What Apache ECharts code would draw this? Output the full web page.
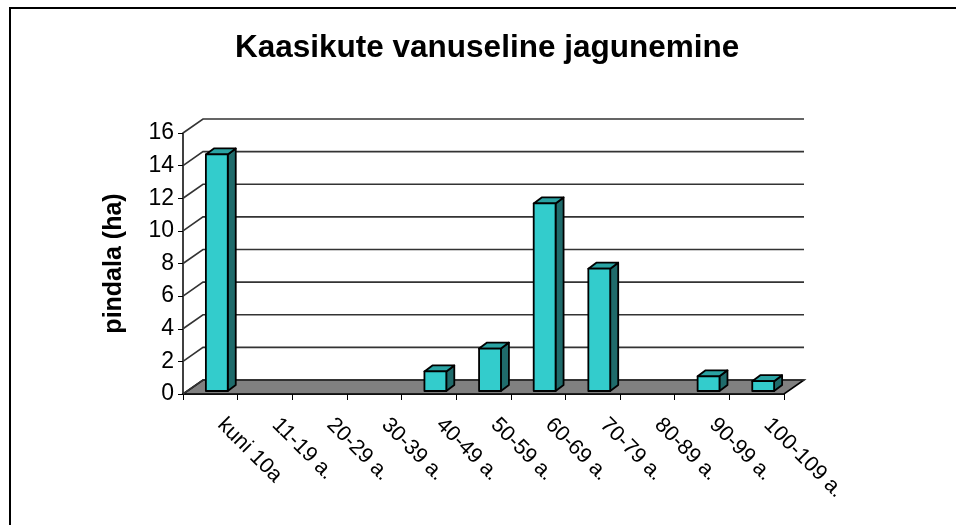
<!DOCTYPE html>
<html>
<head>
<meta charset="utf-8">
<script src="https://cdn.jsdelivr.net/npm/echarts@6/dist/echarts.min.js"></script>
<style>
  html, body { margin: 0; padding: 0; background: #fff; }
  #chart { width: 956px; height: 525px; }
</style>
</head>
<body>
<div id="chart"></div>
<script>
// age classes of the birch stands and their area (ha)
var categories = ['kuni 10a', '11-19 a.', '20-29 a.', '30-39 a.', '40-49 a.', '50-59 a.',
                  '60-69 a.', '70-79 a.', '80-89 a.', '90-99 a.', '100-109 a.'];
var areaHa = [14.5, 0, 0, 0, 1.2, 2.6, 11.5, 7.5, 0, 0.9, 0.6];
var yTicks = [0, 2, 4, 6, 8, 10, 12, 14, 16];

var FONT = "'Liberation Sans', Arial, Helvetica, sans-serif";
// fake 3d: offsets in pixels
var WALL_DEPTH = [20, -14];
var BAR_SHIFT = [6.5, -3];
var BAR_DEPTH = [8, -6];

var chart = echarts.init(document.getElementById('chart'));

function floorItem(params, api) {
    var cs = params.coordSys;
    var y0 = api.coord([0, 0])[1];
    var xl = cs.x, xr = cs.x + cs.width;
    var dx = WALL_DEPTH[0], dy = WALL_DEPTH[1];
    return {
        type: 'polygon',
        shape: { points: [[xl, y0], [xr, y0], [xr + dx, y0 + dy], [xl + dx, y0 + dy]] },
        style: { fill: '#808080', stroke: '#000', lineWidth: 1.6 }
    };
}

function gridItem(params, api) {
    var cs = params.coordSys;
    var y = api.coord([0, api.value(1)])[1];
    var xl = cs.x, xr = cs.x + cs.width;
    var dx = WALL_DEPTH[0], dy = WALL_DEPTH[1];
    return {
        type: 'polyline',
        shape: { points: [[xl, y], [xl + dx, y + dy], [xr + dx, y + dy]] },
        style: { fill: null, stroke: '#333', lineWidth: 1.6 }
    };
}

function barItem(params, api) {
    var idx = api.value(0), v = api.value(1);
    if (!v) {
        return;
    }
    var top = api.coord([idx, v]);
    var base = api.coord([idx, 0]);
    var w = api.size([1, 0])[0] * 0.4;
    var x0 = top[0] - w / 2 + BAR_SHIFT[0], x1 = x0 + w;
    var yt = top[1] + BAR_SHIFT[1], yb = base[1] + BAR_SHIFT[1];
    var dx = BAR_DEPTH[0], dy = BAR_DEPTH[1];
    var line = { stroke: '#000', lineWidth: 1.8, lineJoin: 'round' };
    return {
        type: 'group',
        children: [
            { type: 'polygon', shape: { points: [[x1, yb], [x1 + dx, yb + dy], [x1 + dx, yt + dy], [x1, yt]] },
              style: Object.assign({ fill: '#1f6b6b' }, line) },
            { type: 'polygon', shape: { points: [[x0, yt], [x1, yt], [x1 + dx, yt + dy], [x0 + dx, yt + dy]] },
              style: Object.assign({ fill: '#2aa3a3' }, line) },
            { type: 'rect', shape: { x: x0, y: yt, width: w, height: yb - yt },
              style: Object.assign({ fill: '#33cccc' }, line) }
        ]
    };
}

var option = {
    animation: false,
    backgroundColor: '#fff',
    title: {
        text: 'Kaasikute vanuseline jagunemine',
        left: 235,
        top: 32,
        padding: 0,
        textStyle: { fontFamily: FONT, fontSize: 31.5, fontWeight: 'bold', color: '#000' }
    },
    graphic: [{
        type: 'rect',
        shape: { x: 10, y: 8, width: 1000, height: 600 },
        style: { fill: null, stroke: '#000', lineWidth: 2 },
        silent: true
    }],
    grid: { left: 183, right: 172, top: 133, bottom: 131 },
    xAxis: {
        type: 'category',
        data: categories,
        axisLine: { show: true, lineStyle: { color: '#000', width: 1.5 } },
        axisTick: { show: true, length: 6, lineStyle: { color: '#000' } },
        axisLabel: {
            interval: 0,
            rotate: -45,
            margin: 17,
            padding: [0, 0, 0, 15],
            fontFamily: FONT,
            fontSize: 21.5,
            color: '#000'
        },
        splitLine: { show: false }
    },
    yAxis: {
        type: 'value',
        min: 0,
        max: 16,
        interval: 2,
        name: 'pindala (ha)',
        nameLocation: 'middle',
        nameGap: 56,
        nameTextStyle: { fontFamily: FONT, fontSize: 25, fontWeight: 'bold', color: '#000' },
        axisLine: { show: true, lineStyle: { color: '#000', width: 1.5 } },
        axisTick: { show: true, length: 5, lineStyle: { color: '#000' } },
        axisLabel: { fontFamily: FONT, fontSize: 23, color: '#000', margin: 9 },
        splitLine: { show: false }
    },
    series: [
        {
            type: 'custom',
            name: 'floor',
            renderItem: floorItem,
            data: [[0, 0]],
            clip: false,
            z: 1,
            silent: true
        },
        {
            type: 'custom',
            name: 'grid',
            renderItem: gridItem,
            data: yTicks.map(function(v) { return [0, v]; }),
            clip: false,
            z: 2,
            silent: true
        },
        {
            type: 'custom',
            name: 'pindala',
            renderItem: barItem,
            data: categories.map(function(c, i) { return [i, areaHa[i]]; }),
            clip: false,
            z: 3
        }
    ]
};

chart.setOption(option);
</script>
</body>
</html>
